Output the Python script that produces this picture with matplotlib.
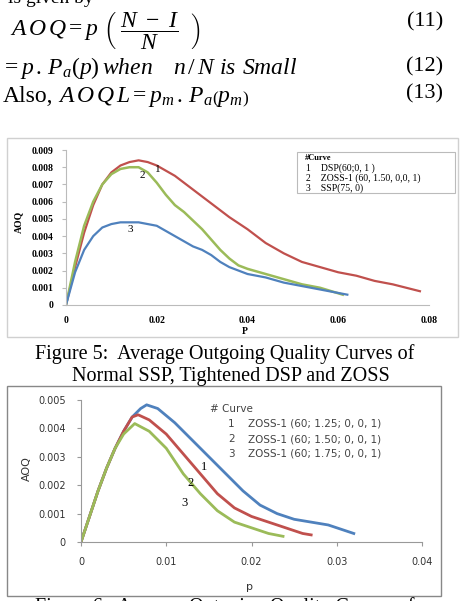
import matplotlib
matplotlib.use("Agg")
import matplotlib.pyplot as plt
from matplotlib.patches import Rectangle

W, H = 463, 601

# ---- data: Figure 5 (AOQ curves) ----
p_dsp = [0, 0.002, 0.004, 0.006, 0.008, 0.010, 0.012, 0.014, 0.016, 0.018, 0.020, 0.024, 0.028,
         0.032, 0.036, 0.040, 0.044, 0.048, 0.052, 0.056, 0.060, 0.064, 0.068, 0.072, 0.078]
aoq_dsp = [0, 0.0022, 0.0042, 0.0058, 0.0070, 0.0077, 0.0081, 0.0083, 0.0084, 0.0083, 0.0081, 0.0075, 0.0067,
           0.0059, 0.0051, 0.0044, 0.0036, 0.0030, 0.0025, 0.0022, 0.0019, 0.0017, 0.0014, 0.0012, 0.0008]

p_zoss = [0, 0.002, 0.004, 0.006, 0.008, 0.010, 0.012, 0.014, 0.016, 0.018, 0.020, 0.022, 0.024, 0.026,
          0.028, 0.030, 0.032, 0.034, 0.036, 0.038, 0.040, 0.044, 0.048, 0.052, 0.056, 0.061]
aoq_zoss = [0, 0.0025, 0.0046, 0.0060, 0.0070, 0.0076, 0.0079, 0.0080, 0.0080, 0.0077, 0.0071, 0.0064, 0.0058, 0.0054,
            0.0049, 0.0044, 0.0038, 0.0032, 0.0027, 0.0023, 0.0021, 0.0018, 0.0015, 0.0012, 0.0010, 0.0006]

p_ssp = [0, 0.002, 0.004, 0.006, 0.008, 0.010, 0.012, 0.014, 0.016, 0.018, 0.020, 0.022, 0.024, 0.026,
         0.028, 0.030, 0.032, 0.034, 0.036, 0.038, 0.040, 0.044, 0.048, 0.052, 0.056, 0.062]
aoq_ssp = [0, 0.0019, 0.0032, 0.0040, 0.0045, 0.0047, 0.0048, 0.0048, 0.0048, 0.0047, 0.0046, 0.0043, 0.0040, 0.0037,
           0.0034, 0.0032, 0.0029, 0.0025, 0.0022, 0.0020, 0.0018, 0.0016, 0.0013, 0.0011, 0.0009, 0.0006]

fig5_legend = ["#Curve", "1    DSP(60;0, 1 )", "2    ZOSS-1 (60, 1.50, 0,0, 1)", "3    SSP(75, 0)"]
fig5_xticks = [0, 0.02, 0.04, 0.06, 0.08]
fig5_xlabels = ["0", "0.02", "0.04", "0.06", "0.08"]
fig5_yticks = [0, 0.001, 0.002, 0.003, 0.004, 0.005, 0.006, 0.007, 0.008, 0.009]
fig5_ylabels = ["0", "0.001", "0.002", "0.003", "0.004", "0.005", "0.006", "0.007", "0.008", "0.009"]

# ---- data: Figure 6 (ZOSS-1 with different k) ----
p_k125 = [0, 0.001, 0.002, 0.003, 0.004, 0.005, 0.006, 0.007, 0.0077, 0.009, 0.011, 0.013, 0.015, 0.017,
          0.019, 0.021, 0.023, 0.025, 0.027, 0.029, 0.031, 0.032]
aoq_k125 = [0, 0.0009, 0.0018, 0.0026, 0.0033, 0.0039, 0.0044, 0.0047, 0.00483, 0.0047, 0.0042, 0.0036, 0.0030, 0.0024,
            0.0018, 0.0013, 0.0010, 0.0008, 0.0007, 0.0006, 0.0004, 0.0003]

p_k150 = [0, 0.001, 0.002, 0.003, 0.004, 0.005, 0.006, 0.0067, 0.008, 0.010, 0.012, 0.014, 0.016, 0.018,
          0.020, 0.022, 0.024, 0.026, 0.027]
aoq_k150 = [0, 0.0009, 0.0018, 0.0026, 0.0033, 0.0039, 0.0044, 0.00448, 0.0043, 0.0038, 0.0031, 0.0024, 0.0017, 0.0012,
            0.0009, 0.0007, 0.0005, 0.0003, 0.00025]

p_k175 = [0, 0.001, 0.002, 0.003, 0.004, 0.005, 0.0063, 0.008, 0.010, 0.012, 0.014, 0.016, 0.018, 0.020,
          0.022, 0.0237]
aoq_k175 = [0, 0.0009, 0.0018, 0.0026, 0.0033, 0.0038, 0.00417, 0.0039, 0.0033, 0.0024, 0.0017, 0.0011, 0.0007, 0.0005,
            0.0003, 0.0002]

fig6_legend = ["1", "2", "3"]
fig6_names = ["ZOSS-1 (60; 1.25; 0, 0, 1)", "ZOSS-1 (60; 1.50; 0, 0, 1)", "ZOSS-1 (60; 1.75; 0, 0, 1)"]
fig6_xticks = [0, 0.01, 0.02, 0.03, 0.04]
fig6_xlabels = ["0", "0.01", "0.02", "0.03", "0.04"]
fig6_yticks = [0, 0.001, 0.002, 0.003, 0.004, 0.005]
fig6_ylabels = ["0", "0.001", "0.002", "0.003", "0.004", "0.005"]

RED, GREEN, BLUE = "#c0504d", "#9bbb59", "#4f81bd"

plt.rcParams["mathtext.fontset"] = "custom"
plt.rcParams["mathtext.rm"] = "Liberation Serif"
plt.rcParams["mathtext.it"] = "Liberation Serif:italic"
plt.rcParams["font.family"] = "Liberation Serif"


def fx(x):
    return x / W


def fy(y):
    return 1 - y / H


def axes_px(fig, left, top, right, bottom):
    return fig.add_axes([fx(left), fy(bottom), (right - left) / W, (bottom - top) / H])


def eq(x, y, s, size=17):
    # one piece of an equation line, placed at pixel x, baseline y
    fig.text(fx(x), fy(y), s, fontsize=size, va="baseline", ha="left")


fig = plt.figure(figsize=(W / 100, H / 100), dpi=100)

# ---- equations text ----
eq(8, 3, "is given by", 14)
# (11)
eq(10, 35, r"$A\,O\,Q = p$")
fig.text(fx(103), fy(31), r"$\left(\ \dfrac{N\ -\ I}{N}\ \ \right)$", fontsize=17, va="center", ha="left")
fig.text(fx(443), fy(22), "(11)", fontsize=16, va="center", ha="right")
# (12)
eq(1, 74, r"$=p\,.\,P_a(p)$")
eq(102, 74, r"$when$")
eq(173, 74, r"$n\,/\,N$")
eq(219, 74, r"$is$")
eq(242, 74, r"$Small$")
fig.text(fx(443), fy(67), "(12)", fontsize=16, va="center", ha="right")
# (13)
eq(3, 102, "Also,")
eq(58, 102, r"$A\,O\,Q\,L = p_m\,.\,P_a\left(p_m\right)$")
fig.text(fx(443), fy(94), "(13)", fontsize=16, va="center", ha="right")

# ---- frames around charts ----
fig.patches.append(Rectangle((fx(7), fy(337)), (458 - 7) / W, (337 - 138) / H, transform=fig.transFigure,
                             fill=False, edgecolor="#d0d0d0", lw=1.0))
fig.patches.append(Rectangle((fx(7), fy(596)), (441 - 7) / W, (596 - 386) / H, transform=fig.transFigure,
                             fill=False, edgecolor="#888888", lw=1.0))

# ---- Figure 5 chart ----
ax1 = axes_px(fig, 66, 150, 429, 305)
ax1.plot(p_dsp, aoq_dsp, color=RED, lw=1.6)
ax1.plot(p_zoss, aoq_zoss, color=GREEN, lw=1.8)
ax1.plot(p_ssp, aoq_ssp, color=BLUE, lw=1.6)
ax1.set_xlim(0, 0.08)
ax1.set_ylim(0, 0.009)
ax1.set_xticks(fig5_xticks, fig5_xlabels)
ax1.set_yticks(fig5_yticks, fig5_ylabels)
for s in ["top", "right"]:
    ax1.spines[s].set_visible(False)
for s in ["left", "bottom"]:
    ax1.spines[s].set_color("#bbbbbb")
ax1.tick_params(axis="y", length=3, color="#bbbbbb", labelsize=7, pad=6)
ax1.tick_params(axis="x", length=0, labelsize=7, pad=8)
for lab in ax1.get_xticklabels() + ax1.get_yticklabels():
    lab.set_fontweight("bold")
ax1.patch.set_alpha(0)
fig.text(fx(19), fy(222), "AOQ", rotation=90, fontsize=7, fontweight="bold", ha="center", va="center")
fig.text(fx(245), fy(332), "P", fontsize=7, fontweight="bold", ha="center", va="center")
fig.text(fx(158), fy(170), "1", fontsize=8, ha="center", va="center")
fig.text(fx(142), fy(175), "2", fontsize=8, ha="center", va="center")
fig.text(fx(130), fy(229), "3", fontsize=8, ha="center", va="center")
fig.patches.append(Rectangle((fx(297), fy(193)), (455 - 297) / W, (193 - 152) / H, transform=fig.transFigure,
                             fill=True, facecolor="white", edgecolor="#bbbbbb", lw=0.8))
for i, t in enumerate(fig5_legend):
    fig.text(fx(305 if i == 0 else 306), fy(158 + i * 10), t, fontsize=7 if i else 6,
             fontweight="bold" if i == 0 else "normal", va="center")

fig.text(fx(225), fy(354), "Figure 5:  Average Outgoing Quality Curves of", fontsize=14.5, ha="center", va="center")
fig.text(fx(231), fy(376), "Normal SSP, Tightened DSP and ZOSS", fontsize=14.5, ha="center", va="center")

# ---- Figure 6 chart ----
ax2 = axes_px(fig, 81, 400, 422, 542)
ax2.plot(p_k125, aoq_k125, color=BLUE, lw=2.0)
ax2.plot(p_k150, aoq_k150, color=RED, lw=2.0)
ax2.plot(p_k175, aoq_k175, color=GREEN, lw=2.0)
ax2.set_xlim(0, 0.04)
ax2.set_ylim(0, 0.005)
ax2.set_xticks(fig6_xticks, fig6_xlabels)
ax2.set_yticks(fig6_yticks, fig6_ylabels)
for s in ["top", "right"]:
    ax2.spines[s].set_visible(False)
for s in ["left", "bottom"]:
    ax2.spines[s].set_color("#999999")
ax2.tick_params(axis="y", length=3, color="#999999", labelsize=7, pad=8, labelcolor="#333333")
ax2.tick_params(axis="x", length=3, color="#999999", labelsize=7, pad=8, labelcolor="#333333")
for lab in ax2.get_xticklabels() + ax2.get_yticklabels():
    lab.set_family("DejaVu Sans")
ax2.patch.set_alpha(0)
fig.text(fx(27), fy(469), "AOQ", rotation=90, fontsize=8, family="DejaVu Sans", ha="center", va="center",
         color="#333333")
fig.text(fx(250), fy(587), "p", fontsize=8, family="DejaVu Sans", ha="center", va="center", color="#333333")
fig.text(fx(204), fy(467), "1", fontsize=9, ha="center", va="center")
fig.text(fx(191), fy(483), "2", fontsize=9, ha="center", va="center")
fig.text(fx(184), fy(503), "3", fontsize=9, ha="center", va="center")
fig.text(fx(210), fy(409), "# Curve", fontsize=7.5, family="DejaVu Sans", va="center", color="#444444")
for i, (n, t) in enumerate(zip(fig6_legend, fig6_names)):
    fig.text(fx(228), fy(424 + i * 15), n, fontsize=7.5, family="DejaVu Sans", va="center", color="#444444")
    fig.text(fx(248), fy(424 + i * 15), t, fontsize=7.5, family="DejaVu Sans", va="center", color="#444444")

fig.text(fx(225), fy(597), "Figure 6:  Average Outgoing Quality Curves of", fontsize=14.5, ha="center", va="top")

fig.savefig("out.png", dpi=100)
